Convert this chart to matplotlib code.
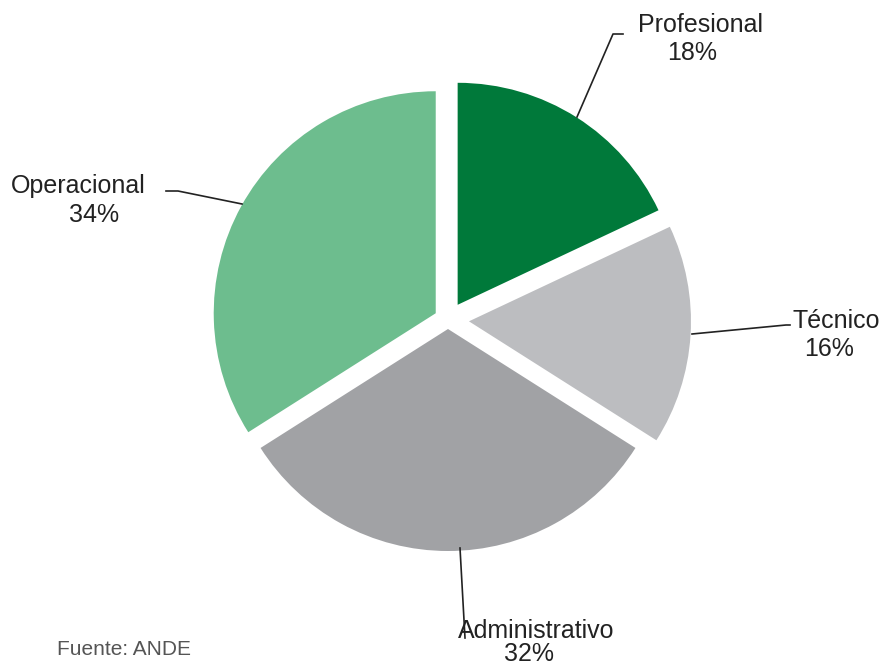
import matplotlib
matplotlib.use("Agg")
import matplotlib.pyplot as plt

categories = ["Profesional", "Técnico", "Administrativo", "Operacional"]
values = [18, 16, 32, 34]
colors = ["#00793A", "#BCBDC0", "#A1A2A5", "#6DBD8E"]
source = "Fuente: ANDE"

W, H = 881, 666
fig = plt.figure(figsize=(W / 100, H / 100), dpi=100)
ax = fig.add_axes([0, 0, 1, 1])
ax.set_xlim(0, W)
ax.set_ylim(0, H)
ax.set_aspect("equal")
ax.axis("off")

cx, cy, R = 448, H - 320, 222
ax.pie(values, colors=colors, startangle=90, counterclock=False,
       center=(cx, cy), radius=R, explode=[18, 21, 9, 14],
       wedgeprops=dict(linewidth=0))
ax.set_xlim(0, W)
ax.set_ylim(0, H)

FONT = "Liberation Sans"
txt = dict(fontsize=18, color="#222222", ha="center", va="baseline", family=FONT)
# (name-line centre x, baseline y), (pct-line centre x, baseline y), leader points
lab = {
    "Profesional": ((700, 32), (692, 60), [(577, 117), (613, 34), (623, 34)]),
    "Técnico": ((836, 328), (829, 356), [(692, 334), (786, 325), (790, 325)]),
    "Administrativo": ((536, 638), (529, 661), [(460, 548), (465, 638)]),
    "Operacional": ((78, 193), (94, 222), [(242, 204), (178, 191), (166, 191)]),
}
for c, v in zip(categories, values):
    (nx, ny), (px, py), pts = lab[c]
    ax.text(nx, H - ny, c, **txt)
    ax.text(px, H - py, f"{v}%", **txt)
    ax.plot([p[0] for p in pts], [H - p[1] for p in pts], color="#222222", lw=1.2)

ax.text(57, H - 655, source, fontsize=15, color="#555555", ha="left", va="baseline",
        family=FONT)

fig.savefig("out.png", dpi=100)
